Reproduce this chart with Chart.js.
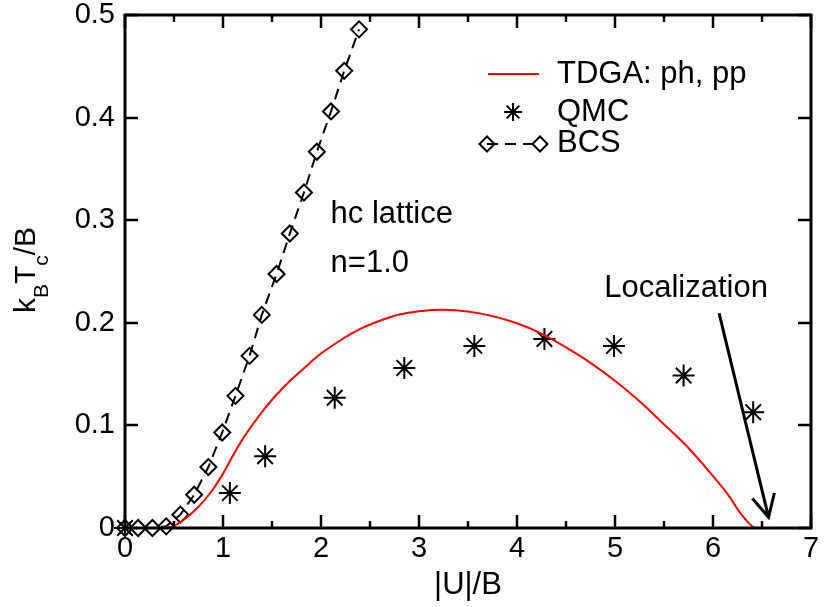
<!DOCTYPE html>
<html>
<head>
<meta charset="utf-8">
<script src="https://cdn.jsdelivr.net/npm/chart.js@4.4.1/dist/chart.umd.min.js"></script>
<style>
  html, body { margin: 0; padding: 0; background: #ffffff; }
  canvas { display: block; }
</style>
</head>
<body>
<canvas id="c" width="824" height="607"></canvas>
<script>
// ---- data ----
const tdgaX = [0, 0.2, 0.4, 0.5, 0.6, 0.7, 0.8, 0.9, 1.0, 1.1, 1.2, 1.3, 1.4, 1.5, 1.6, 1.7, 1.8, 2.0, 2.2, 2.4, 2.6, 2.8, 3.0, 3.25, 3.5, 3.75, 4.0, 4.25, 4.5, 4.75, 5.0, 5.25, 5.5, 5.75, 6.0, 6.15, 6.3, 6.44, 7.0];
const tdgaY = [0, 0, 0, 0.002, 0.008, 0.016, 0.026, 0.038, 0.053, 0.0705, 0.0865, 0.1005, 0.1135, 0.125, 0.1355, 0.145, 0.1535, 0.170, 0.183, 0.194, 0.202, 0.208, 0.2112, 0.2126, 0.211, 0.2065, 0.1995, 0.1895, 0.176, 0.161, 0.1435, 0.1235, 0.101, 0.078, 0.0505, 0.033, 0.012, 0, 0];

const qmcX = [0, 1.07, 1.43, 2.14, 2.85, 3.565, 4.28, 4.99, 5.70, 6.41];
const qmcY = [0, 0.034, 0.070, 0.127, 0.156, 0.1775, 0.1843, 0.1775, 0.1486, 0.1129];

const bcsX = [0, 0.134, 0.28, 0.42, 0.565, 0.706, 0.851, 0.992, 1.127, 1.271, 1.396, 1.547, 1.682, 1.826, 1.958, 2.102, 2.237, 2.388];
const bcsY = [0, 0, 0, 0.0016, 0.013, 0.0324, 0.0594, 0.0931, 0.1288, 0.1678, 0.2077, 0.2476, 0.287, 0.327, 0.3667, 0.406, 0.4456, 0.486];

const seriesNames = ['TDGA: ph, pp', 'QMC', 'BCS'];
const xTicks = [0, 1, 2, 3, 4, 5, 6, 7];
const yTicks = [0, 0.1, 0.2, 0.3, 0.4, 0.5];
const xTitle = '|U|/B';
const notes = ['hc lattice', 'n=1.0', 'Localization'];

const toPts = (xs, ys) => xs.map((x, i) => ({x: x, y: ys[i]}));
const FONT = "'Liberation Sans', Arial, sans-serif";
const FS = 29;   // tick labels
const FT = 31;   // texts, legend, axis titles

const decor = {
  id: 'decor',
  afterDatasetsDraw(chart) {
    const ctx = chart.ctx;
    const a = chart.chartArea;
    const xs = chart.scales.x, ys = chart.scales.y;
    ctx.save();
    ctx.strokeStyle = '#000';
    ctx.fillStyle = '#000';
    // ticks (inward)
    ctx.lineWidth = 2.5;
    ctx.beginPath();
    for (let v = 0; v <= 7.0001; v += 0.5) {
      const px = Math.round(xs.getPixelForValue(v));
      const len = (Math.abs(v - Math.round(v)) < 1e-6) ? 13 : 7;
      ctx.moveTo(px, a.bottom); ctx.lineTo(px, a.bottom - len);
      ctx.moveTo(px, a.top); ctx.lineTo(px, a.top + len);
    }
    yTicks.forEach(v => {
      const py = Math.round(ys.getPixelForValue(v));
      ctx.moveTo(a.left, py); ctx.lineTo(a.left + 13, py);
      ctx.moveTo(a.right, py); ctx.lineTo(a.right - 13, py);
    });
    ctx.stroke();
    // frame
    ctx.lineWidth = 3;
    ctx.strokeRect(a.left, a.top, a.right - a.left, a.bottom - a.top);

    // annotation texts
    ctx.font = FT + 'px ' + FONT;
    ctx.textBaseline = 'alphabetic';
    ctx.textAlign = 'left';
    ctx.fillText(notes[0], xs.getPixelForValue(2.098), ys.getPixelForValue(0.297));
    ctx.fillText(notes[1], xs.getPixelForValue(2.098), ys.getPixelForValue(0.250));
    ctx.textAlign = 'center';
    ctx.fillText(notes[2], xs.getPixelForValue(5.725), ys.getPixelForValue(0.2249));
    ctx.textAlign = 'left';

    // arrow
    const x1 = xs.getPixelForValue(6.062), y1 = ys.getPixelForValue(0.2095);
    const x2 = xs.getPixelForValue(6.567), y2 = ys.getPixelForValue(0.0104);
    ctx.lineWidth = 3;
    ctx.beginPath();
    ctx.moveTo(x1, y1); ctx.lineTo(x2, y2);
    const ang = Math.atan2(y1 - y2, x1 - x2);
    const hl = 25, ha = 27 * Math.PI / 180;
    ctx.moveTo(x2 + hl * Math.cos(ang + ha), y2 + hl * Math.sin(ang + ha));
    ctx.lineTo(x2, y2);
    ctx.lineTo(x2 + hl * Math.cos(ang - ha), y2 + hl * Math.sin(ang - ha));
    ctx.stroke();

    // legend
    ctx.lineWidth = 2;
    ctx.strokeStyle = '#ff0000';
    ctx.beginPath(); ctx.moveTo(488, 74); ctx.lineTo(539, 74); ctx.stroke();
    ctx.strokeStyle = '#000';
    // star
    const sr = 9;
    ctx.beginPath();
    for (let k = 0; k < 4; k++) {
      const t = k * Math.PI / 4;
      ctx.moveTo(513 - sr * Math.cos(t), 112 - sr * Math.sin(t));
      ctx.lineTo(513 + sr * Math.cos(t), 112 + sr * Math.sin(t));
    }
    ctx.stroke();
    // BCS sample
    ctx.setLineDash([11, 7]);
    ctx.beginPath(); ctx.moveTo(487, 144); ctx.lineTo(540, 144); ctx.stroke();
    ctx.setLineDash([]);
    [487, 540].forEach(cx => {
      const r = 7.5;
      ctx.beginPath();
      ctx.moveTo(cx, 144 - r); ctx.lineTo(cx + r, 144); ctx.lineTo(cx, 144 + r); ctx.lineTo(cx - r, 144); ctx.closePath();
      ctx.stroke();
    });
    ctx.fillText(seriesNames[0], 557, 83);
    ctx.fillText(seriesNames[1], 557, 121);
    ctx.fillText(seriesNames[2], 557, 152);

    // y-axis title with subscripts
    ctx.translate(35, 270);
    ctx.rotate(-Math.PI / 2);
    const main = '30px ' + FONT, sub = '21px ' + FONT;
    const pieces = [['k', main, 0], ['B', sub, 13], ['T', main, 0], ['c', sub, 13], ['/B', main, 0]];
    let total = 0;
    pieces.forEach(p => { ctx.font = p[1]; total += ctx.measureText(p[0]).width; });
    let cx = -total / 2;
    pieces.forEach(p => { ctx.font = p[1]; ctx.fillText(p[0], cx, p[2]); cx += ctx.measureText(p[0]).width; });
    ctx.restore();
  }
};

new Chart(document.getElementById('c'), {
  type: 'scatter',
  data: {
    datasets: [
      {
        label: seriesNames[0],
        data: toPts(tdgaX, tdgaY),
        showLine: true,
        borderColor: '#ff0000',
        borderWidth: 2,
        pointRadius: 0,
        cubicInterpolationMode: 'monotone',
        clip: false
      },
      {
        label: seriesNames[1],
        data: toPts(qmcX, qmcY),
        showLine: false,
        pointStyle: 'star',
        pointRadius: 11,
        borderColor: '#000',
        backgroundColor: '#000',
        pointBorderWidth: 2,
        clip: false
      },
      {
        label: seriesNames[2],
        data: toPts(bcsX, bcsY),
        showLine: true,
        borderColor: '#000',
        borderWidth: 2,
        borderDash: [11, 7],
        pointStyle: 'rectRot',
        pointRadius: 8,
        pointBorderWidth: 2,
        pointBorderColor: '#000',
        pointBackgroundColor: 'rgba(0,0,0,0)',
        tension: 0,
        clip: false
      }
    ]
  },
  options: {
    responsive: false,
    animation: false,
    devicePixelRatio: 1,
    layout: { padding: { left: 0, top: 15, right: 5, bottom: 0 } },
    plugins: { legend: { display: false }, tooltip: { enabled: false } },
    scales: {
      x: {
        type: 'linear', min: 0, max: 7,
        afterBuildTicks: s => { s.ticks = xTicks.map(v => ({value: v})); },
        afterFit: s => { s.height = 79; s.paddingLeft = 0; s.paddingRight = 0; },
        grid: { display: false, drawTicks: false },
        border: { display: false },
        ticks: { color: '#000', font: { family: FONT, size: FS }, padding: 4, maxRotation: 0, autoSkip: false },
        title: { display: true, text: xTitle, color: '#000', font: { family: FONT, size: FT }, padding: { top: 0, bottom: 3 } }
      },
      y: {
        type: 'linear', min: 0, max: 0.5,
        afterBuildTicks: s => { s.ticks = yTicks.map(v => ({value: v})); },
        afterFit: s => { s.width = 125; s.paddingTop = 0; s.paddingBottom = 0; },
        grid: { display: false, drawTicks: false },
        border: { display: false },
        ticks: { color: '#000', font: { family: FONT, size: FS }, padding: 10, autoSkip: false,
                 callback: v => String(Math.round(v * 10) / 10) }
      }
    }
  },
  plugins: [decor]
});
</script>
</body>
</html>
